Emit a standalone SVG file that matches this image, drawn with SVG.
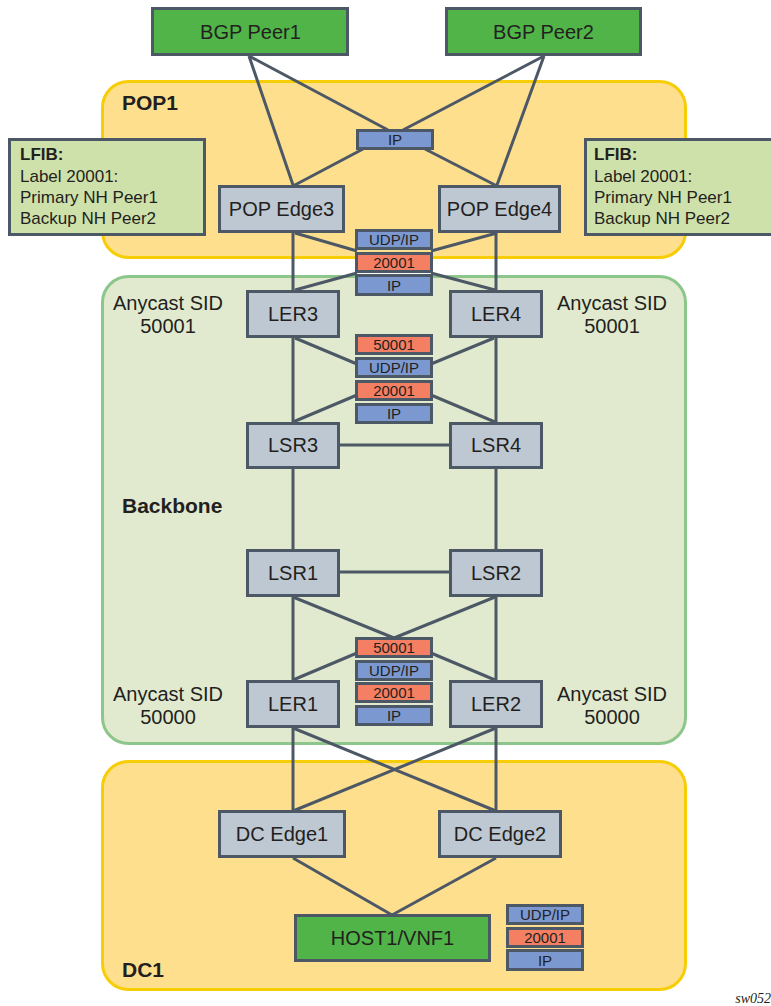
<svg xmlns="http://www.w3.org/2000/svg" width="771" height="1006" viewBox="0 0 771 1006">
<style>
text{font-family:"Liberation Sans",Arial,sans-serif;fill:#231F20}
.node{fill:#BEC8D2;stroke:#4D5866;stroke-width:3}
.peer{fill:#50B448;stroke:#4D5866;stroke-width:3}
.lfib{fill:#CFE1AA;stroke:#4D5866;stroke-width:3}
.blue{fill:#7B98D0;stroke:#4D5866;stroke-width:3}
.red{fill:#F47F62;stroke:#4D5866;stroke-width:3}
.nl{font-size:20px;text-anchor:middle}
.sl{font-size:15px;text-anchor:middle}
.lt{font-size:17px}
.rl{font-size:21px;font-weight:bold}
.any{font-size:20px;text-anchor:middle}
#connectors line{stroke:#4D5866;stroke-width:3}
</style>
<rect width="771" height="1006" fill="#FFFFFF"/>
<g id="regions">
<rect id="pop1" x="102.5" y="81.5" width="583" height="176" rx="26" fill="#FEDF8E" stroke="#F7CD06" stroke-width="3"/>
<rect id="backbone" x="102.5" y="276.5" width="583" height="467" rx="26" fill="#E1EACE" stroke="#8DC68B" stroke-width="3"/>
<rect id="dc1" x="102.5" y="761.5" width="583" height="228" rx="26" fill="#FEDF8E" stroke="#F7CD06" stroke-width="3"/>
<text class="rl" x="122" y="110">POP1</text>
<text class="rl" x="122" y="513">Backbone</text>
<text class="rl" x="122" y="977">DC1</text>
</g>
<g id="connectors">
<line x1="249" y1="56" x2="293" y2="185"/>
<line x1="249" y1="56" x2="388" y2="130"/>
<line x1="544" y1="56" x2="497" y2="185"/>
<line x1="544" y1="56" x2="403" y2="130"/>
<line x1="363" y1="149" x2="293" y2="186"/>
<line x1="425" y1="149" x2="497" y2="186"/>
<line x1="293" y1="233" x2="293" y2="291"/>
<line x1="496" y1="233" x2="496" y2="291"/>
<line x1="295" y1="233" x2="357" y2="251"/>
<line x1="497" y1="233" x2="431" y2="251"/>
<line x1="357" y1="273" x2="295" y2="290"/>
<line x1="431" y1="273" x2="495" y2="290"/>
<line x1="295" y1="338" x2="357" y2="364"/>
<line x1="494" y1="338" x2="431" y2="364"/>
<line x1="293" y1="338" x2="293" y2="423"/>
<line x1="496" y1="338" x2="496" y2="423"/>
<line x1="357" y1="395" x2="293" y2="422"/>
<line x1="431" y1="395" x2="495" y2="422"/>
<line x1="340" y1="445" x2="449" y2="445"/>
<line x1="293" y1="469" x2="293" y2="550"/>
<line x1="496" y1="469" x2="496" y2="550"/>
<line x1="340" y1="572" x2="449" y2="572"/>
<line x1="293" y1="597" x2="394" y2="638"/>
<line x1="495" y1="597" x2="394" y2="638"/>
<line x1="293" y1="597" x2="293" y2="681"/>
<line x1="496" y1="597" x2="496" y2="681"/>
<line x1="357" y1="653" x2="293" y2="680"/>
<line x1="431" y1="653" x2="495" y2="680"/>
<line x1="293" y1="728" x2="293" y2="811"/>
<line x1="496" y1="728" x2="496" y2="811"/>
<line x1="293" y1="728" x2="496" y2="811"/>
<line x1="496" y1="728" x2="293" y2="811"/>
<line x1="293" y1="858" x2="392" y2="915"/>
<line x1="496" y1="858" x2="392" y2="915"/>
</g>
<g id="bgp-peer1"><rect class="peer" x="152.5" y="8.5" width="195" height="46"/><text class="nl" x="250.5" y="39">BGP Peer1</text></g>
<g id="bgp-peer2"><rect class="peer" x="446.5" y="8.5" width="194" height="46"/><text class="nl" x="543.5" y="39">BGP Peer2</text></g>
<g id="lfib-left"><rect class="lfib" x="9.5" y="139.5" width="195" height="95"/>
<text class="lt" x="20" y="160" font-weight="bold">LFIB:</text>
<text class="lt" x="20" y="182">Label 20001:</text>
<text class="lt" x="20" y="203">Primary NH Peer1</text>
<text class="lt" x="20" y="224">Backup NH Peer2</text></g>
<g id="lfib-right"><rect class="lfib" x="585.5" y="139.5" width="195" height="95"/>
<text class="lt" x="594" y="160" font-weight="bold">LFIB:</text>
<text class="lt" x="594" y="182">Label 20001:</text>
<text class="lt" x="594" y="203">Primary NH Peer1</text>
<text class="lt" x="594" y="224">Backup NH Peer2</text></g>
<g id="ip-top"><rect class="blue" x="357.5" y="130.5" width="75" height="18"/><text class="sl" x="395" y="145">IP</text></g>
<g id="pop-edge3"><rect class="node" x="219.5" y="186.5" width="124" height="45"/><text class="nl" x="281.5" y="216">POP Edge3</text></g>
<g id="pop-edge4"><rect class="node" x="439.5" y="186.5" width="120" height="45"/><text class="nl" x="499.5" y="216">POP Edge4</text></g>
<g id="stack1">
<rect class="blue" x="356.5" y="230.5" width="75" height="18"/><text class="sl" x="394" y="245">UDP/IP</text>
<rect class="red" x="356.5" y="253.5" width="75" height="18"/><text class="sl" x="394" y="268">20001</text>
<rect class="blue" x="356.5" y="275.5" width="75" height="19"/><text class="sl" x="394" y="291">IP</text>
</g>
<g id="ler3"><rect class="node" x="247.5" y="291.5" width="91" height="45"/><text class="nl" x="293" y="321">LER3</text></g>
<g id="ler4"><rect class="node" x="450.5" y="291.5" width="91" height="45"/><text class="nl" x="496" y="321">LER4</text></g>
<g id="anycast-50001-left"><text class="any" x="168" y="310">Anycast SID</text><text class="any" x="168" y="333">50001</text></g>
<g id="anycast-50001-right"><text class="any" x="612" y="310">Anycast SID</text><text class="any" x="612" y="333">50001</text></g>
<g id="stack2">
<rect class="red" x="356.5" y="335.5" width="75" height="18"/><text class="sl" x="394" y="350">50001</text>
<rect class="blue" x="356.5" y="358.5" width="75" height="18"/><text class="sl" x="394" y="373">UDP/IP</text>
<rect class="red" x="356.5" y="381.5" width="75" height="18"/><text class="sl" x="394" y="396">20001</text>
<rect class="blue" x="356.5" y="404.5" width="75" height="18"/><text class="sl" x="394" y="419">IP</text>
</g>
<g id="lsr3"><rect class="node" x="247.5" y="423.5" width="91" height="44"/><text class="nl" x="293" y="452">LSR3</text></g>
<g id="lsr4"><rect class="node" x="450.5" y="423.5" width="91" height="44"/><text class="nl" x="496" y="452">LSR4</text></g>
<g id="lsr1"><rect class="node" x="247.5" y="550.5" width="91" height="45"/><text class="nl" x="293" y="580">LSR1</text></g>
<g id="lsr2"><rect class="node" x="450.5" y="550.5" width="91" height="45"/><text class="nl" x="496" y="580">LSR2</text></g>
<g id="stack3">
<rect class="red" x="356.5" y="638.5" width="75" height="18"/><text class="sl" x="394" y="653">50001</text>
<rect class="blue" x="356.5" y="661.5" width="75" height="18"/><text class="sl" x="394" y="676">UDP/IP</text>
<rect class="red" x="356.5" y="683.5" width="75" height="18"/><text class="sl" x="394" y="698">20001</text>
<rect class="blue" x="356.5" y="706.5" width="75" height="18"/><text class="sl" x="394" y="721">IP</text>
</g>
<g id="ler1"><rect class="node" x="247.5" y="681.5" width="91" height="45"/><text class="nl" x="293" y="711">LER1</text></g>
<g id="ler2"><rect class="node" x="450.5" y="681.5" width="91" height="45"/><text class="nl" x="496" y="711">LER2</text></g>
<g id="anycast-50000-left"><text class="any" x="168" y="701">Anycast SID</text><text class="any" x="168" y="724">50000</text></g>
<g id="anycast-50000-right"><text class="any" x="612" y="701">Anycast SID</text><text class="any" x="612" y="724">50000</text></g>
<g id="dc-edge1"><rect class="node" x="219.5" y="811.5" width="125" height="45"/><text class="nl" x="282" y="841">DC Edge1</text></g>
<g id="dc-edge2"><rect class="node" x="439.5" y="811.5" width="121" height="45"/><text class="nl" x="500" y="841">DC Edge2</text></g>
<g id="host1-vnf1"><rect class="peer" x="295.5" y="915.5" width="194" height="45"/><text class="nl" x="392.5" y="945">HOST1/VNF1</text></g>
<g id="stack4">
<rect class="blue" x="507.5" y="905.5" width="75" height="18"/><text class="sl" x="545" y="920">UDP/IP</text>
<rect class="red" x="507.5" y="928.5" width="75" height="18"/><text class="sl" x="545" y="943">20001</text>
<rect class="blue" x="507.5" y="950.5" width="75" height="19"/><text class="sl" x="545" y="966">IP</text>
</g>
<text x="771" y="1003" text-anchor="end" style="font-family:'Liberation Serif','Times New Roman',serif;font-style:italic;font-size:14px">sw052</text>
</svg>
